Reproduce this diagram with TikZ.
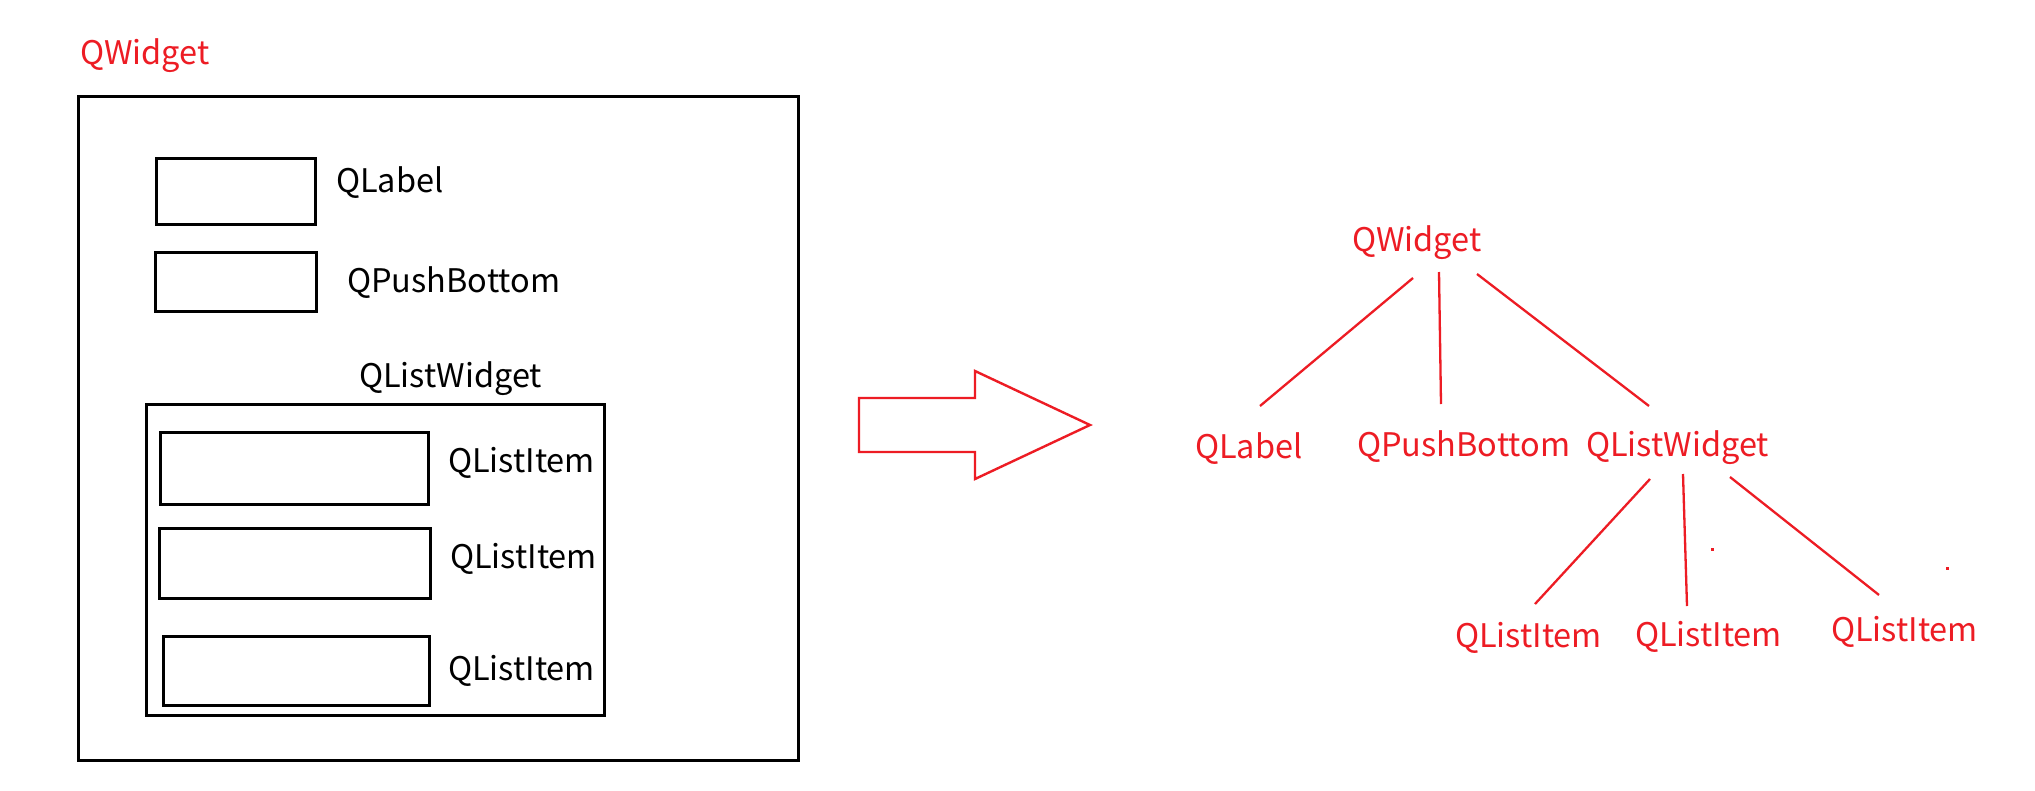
\documentclass[tikz,border=0pt]{standalone}
\usepackage{fontspec}
\newfontfamily\yfont{Noto Sans CJK SC}
\definecolor{pred}{RGB}{237,28,36}
\begin{document}
\begin{tikzpicture}[x=1pt,y=-1pt,
  boxn/.style={draw=black, line width=3.2pt, inner sep=0pt, anchor=north west},
  lbl/.style={inner sep=0pt, anchor=base west, font=\yfont\fontsize{32.5pt}{38pt}\selectfont},
  rlbl/.style={lbl, text=pred},
  redline/.style={draw=pred, line width=2.3pt}
]
\useasboundingbox[fill=white] (0,0) rectangle (2035,790);

% ---------- left: nested widgets ----------
\node[rlbl] (lw) at (80,64) {QWidget};
\node[boxn, minimum width=720pt, minimum height=664pt] (outer) at (77,95) {};
\node[boxn, minimum width=159pt, minimum height=66pt] (labbox) at (155,157) {};
\node[lbl] (labtxt) at (336,192) {QLabel};
\node[boxn, minimum width=161pt, minimum height=59pt] (pushbox) at (154,251) {};
\node[lbl] (pushtxt) at (347,292) {QPushBottom};
\node[lbl] (listtxt) at (359,387) {QListWidget};
\node[boxn, minimum width=458pt, minimum height=311pt] (inner) at (145,403) {};
\node[boxn, minimum width=268pt, minimum height=72pt] (it1) at (159,431) {};
\node[lbl] (it1txt) at (448,472) {QListItem};
\node[boxn, minimum width=271pt, minimum height=70pt] (it2) at (158,527) {};
\node[lbl] (it2txt) at (450,568) {QListItem};
\node[boxn, minimum width=266pt, minimum height=69pt] (it3) at (162,635) {};
\node[lbl] (it3txt) at (448,680) {QListItem};

% ---------- hollow arrow ----------
\draw[draw=pred, line width=2.4pt, line join=miter]
  (859,398) -- (975,398) -- (975,371) -- (1090,425) -- (975,479) -- (975,452) -- (859,452) -- cycle;

% ---------- right: tree ----------
\node[rlbl] (rw) at (1352,251) {QWidget};
\node[rlbl] (rl) at (1195,458) {QLabel};
\node[rlbl] (rp) at (1357,456) {QPushBottom};
\node[rlbl] (rlw) at (1586,456) {QListWidget};
\node[rlbl] (ri1) at (1455,647) {QListItem};
\node[rlbl] (ri2) at (1635,646) {QListItem};
\node[rlbl] (ri3) at (1831,641) {QListItem};

\coordinate (rw-a) at (1413,278);
\coordinate (rl-a) at (1260,406);
\coordinate (rw-b) at (1439,272);
\coordinate (rp-a) at (1441,404);
\coordinate (rw-c) at (1477,274);
\coordinate (rlw-a) at (1649,406);
\coordinate (rlw-b) at (1650,479);
\coordinate (ri1-a) at (1535,604);
\coordinate (rlw-c) at (1683,474);
\coordinate (ri2-a) at (1687,606);
\coordinate (rlw-d) at (1730,477);
\coordinate (ri3-a) at (1879,595);

\draw[redline] (rw-a) -- (rl-a);
\draw[redline] (rw-b) -- (rp-a);
\draw[redline] (rw-c) -- (rlw-a);
\draw[redline] (rlw-b) -- (ri1-a);
\draw[redline] (rlw-c) -- (ri2-a);
\draw[redline] (rlw-d) -- (ri3-a);

% stray dots
\fill[pred] (1710.5,547.5) rectangle (1713.5,550.5);
\fill[pred] (1945.5,566.5) rectangle (1948.5,569.5);
\end{tikzpicture}
\end{document}
